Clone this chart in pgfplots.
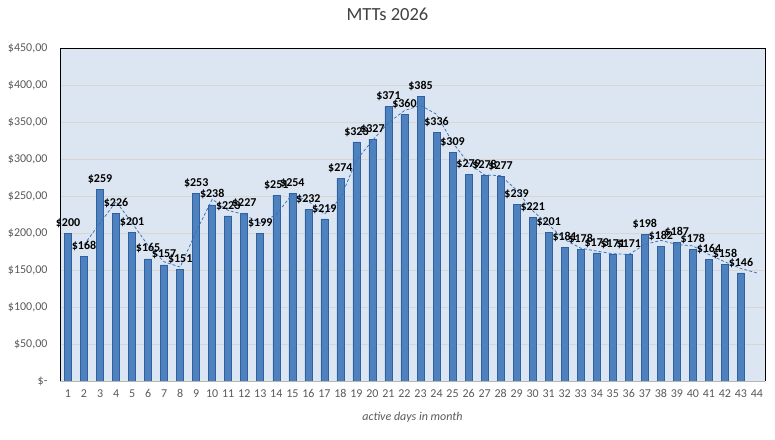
\documentclass[border=0pt]{standalone}
\usepackage{fontspec}
\setmainfont{Carlito}
\usepackage{pgfplots}
\usepackage{pgfplotstable}
\pgfplotsset{compat=1.18}
\definecolor{barfill}{RGB}{79,129,189}
\definecolor{bardraw}{RGB}{44,98,165}
\definecolor{plotbg}{RGB}{220,230,242}
\definecolor{gridc}{RGB}{217,214,210}
\definecolor{txtgray}{RGB}{89,89,89}
\definecolor{titlec}{RGB}{64,64,64}
\definecolor{linec}{RGB}{60,112,185}

\pgfplotstableread{
day val
1 200
2 168
3 259
4 226
5 201
6 165
7 157
8 151
9 253
10 238
11 223
12 227
13 199
14 251
15 254
16 232
17 219
18 274
19 323
20 327
21 371
22 360
23 385
24 336
25 309
26 279
27 278
28 277
29 239
30 221
31 201
32 181
33 178
34 173
35 171
36 171
37 198
38 182
39 187
40 178
41 164
42 158
43 146
}\mttdata

\pgfplotstableread{
day avg
2 184
3 213.5
4 242.5
5 213.5
6 183
7 161
8 154
9 202
10 245.5
11 230.5
12 225
13 213
14 225
15 252.5
16 243
17 225.5
18 246.5
19 298.5
20 325
21 349
22 365.5
23 372.5
24 360.5
25 322.5
26 294
27 278.5
28 277.5
29 258
30 230
31 211
32 191
33 179.5
34 175.5
35 172
36 171
37 184.5
38 190
39 184.5
40 182.5
41 171
42 161
43 152
44 146
}\avgdata

\begin{document}
\begin{tikzpicture}[x=1pt,y=1pt]
\useasboundingbox (0,0) rectangle (775,439);
\begin{axis}[
  at={(60pt,58pt)}, anchor=south west,
  width=705pt, height=333pt, scale only axis,
  xmin=0.5, xmax=44.5, ymin=0, ymax=450,
  axis background/.style={fill=plotbg},
  axis line style={draw=none},
  ytick={0,50,...,450},
  yticklabels={{\$-},{\$50,00},{\$100,00},{\$150,00},{\$200,00},{\$250,00},{\$300,00},{\$350,00},{\$400,00},{\$450,00}},
  xtick={1,...,44},
  major tick length=0pt,
  ymajorgrids, grid style={gridc, line width=0.8pt},
  tick label style={font=\fontsize{12}{14}\selectfont, text=txtgray},
  /pgf/number format/assume math mode=true,
  xticklabel style={yshift=-5pt},
  yticklabel style={xshift=-9pt},
  title={MTTs 2026},
  title style={at={(rel axis cs:0.5,1)}, anchor=center, yshift=28pt, xshift=-25pt,
    font=\fontsize{18.5}{22}\selectfont, text=titlec},
  xlabel={active days in month},
  xlabel style={at={(rel axis cs:0.5,0)}, anchor=center, yshift=-36pt,
    font=\fontsize{12}{14}\selectfont\itshape, text=txtgray},
  clip=false,
]
\addplot[ybar, bar width=7pt, fill=barfill, draw=bardraw, line width=0.6pt,
  point meta=explicit symbolic,
  nodes near coords={\$\pgfplotspointmeta},
  every node near coord/.style={font=\fontsize{12}{14}\selectfont\bfseries, text=black, yshift=2pt}]
  table[x=day, y=val, meta=val] {\mttdata};
\addplot[linec, line width=0.75pt, dash pattern=on 3pt off 2pt, mark=none]
  table[x=day, y=avg] {\avgdata};
\draw[black, line width=0.8pt] (rel axis cs:0,0) -- (rel axis cs:0,1) -- (rel axis cs:1,1) -- (rel axis cs:1,0);
\draw[gridc!85!black, line width=0.8pt] (rel axis cs:0,0) -- (rel axis cs:1,0);
\end{axis}
\end{tikzpicture}
\end{document}
